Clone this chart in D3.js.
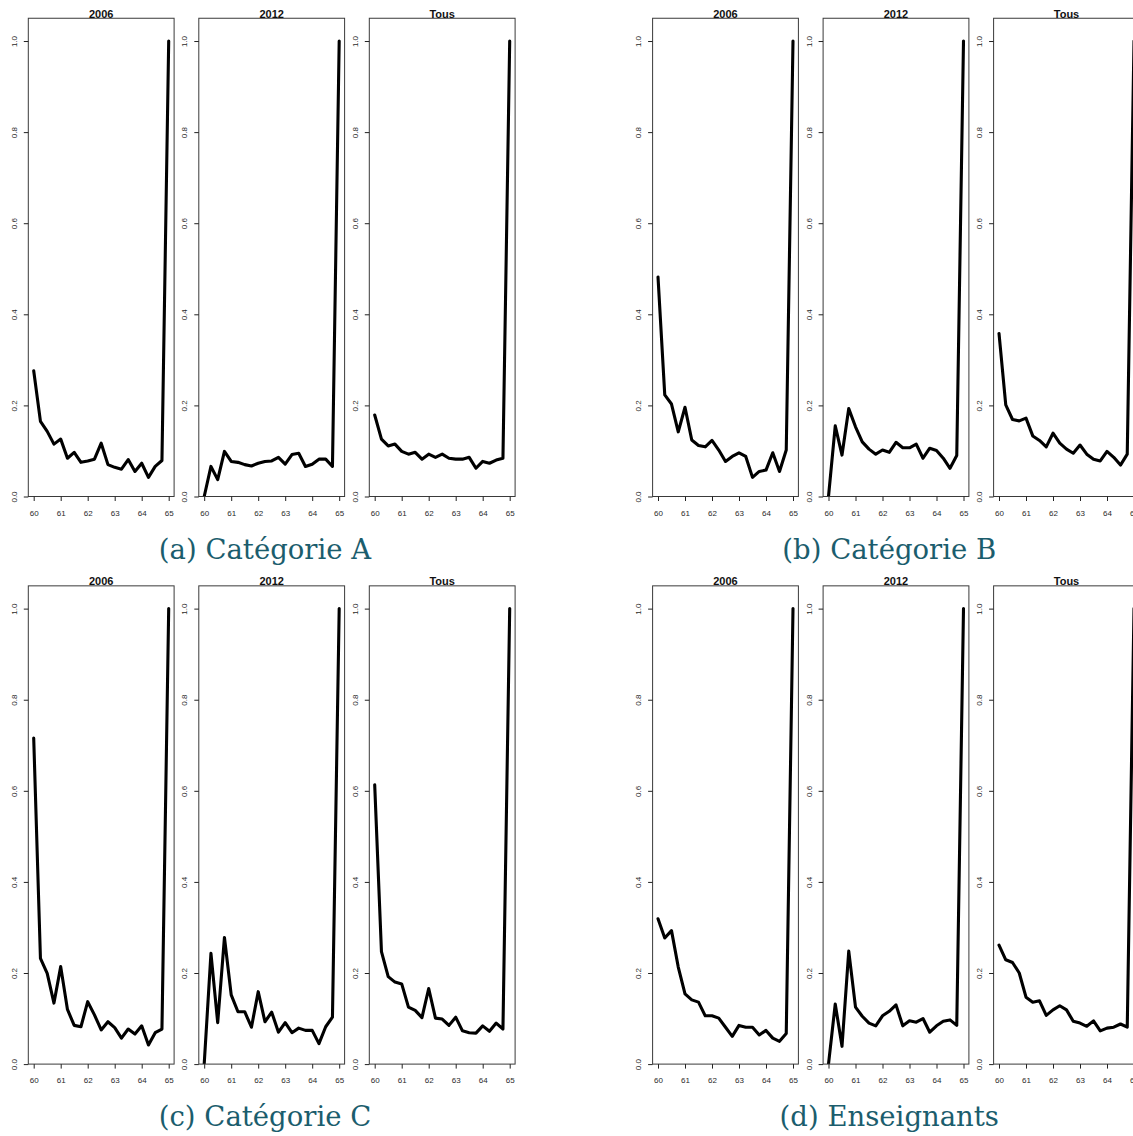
<!DOCTYPE html>
<html>
<head>
<meta charset="utf-8">
<script src="https://cdn.jsdelivr.net/npm/d3@7"></script>
<style>
html, body { margin: 0; padding: 0; background: #fff; }
svg { display: block; }
</style>
</head>
<body>
<svg id="chart" width="1133" height="1136"></svg>
<script>
// ---- data ----
const ages = [60, 60.25, 60.5, 60.75, 61, 61.25, 61.5, 61.75, 62, 62.25, 62.5, 62.75, 63, 63.25, 63.5, 63.75, 64, 64.25, 64.5, 64.75, 65];
const xTicks = [60, 61, 62, 63, 64, 65];
const yTicks = [0, 0.2, 0.4, 0.6, 0.8, 1.0];
const yTickLabels = ["0.0", "0.2", "0.4", "0.6", "0.8", "1.0"];
const panelTitles = ["2006", "2012", "Tous"];
const captions = ["(a) Catégorie A", "(b) Catégorie B", "(c) Catégorie C", "(d) Enseignants"];

const catA2006 = [0.276, 0.165, 0.143, 0.115, 0.126, 0.084, 0.097, 0.075, 0.078, 0.082, 0.117, 0.070, 0.064, 0.060, 0.081, 0.055, 0.073, 0.042, 0.066, 0.079, 1.0];
const catA2012 = [0.0, 0.066, 0.037, 0.099, 0.077, 0.075, 0.070, 0.067, 0.073, 0.077, 0.078, 0.086, 0.071, 0.092, 0.095, 0.066, 0.071, 0.082, 0.082, 0.066, 1.0];
const catATous = [0.179, 0.126, 0.111, 0.115, 0.099, 0.093, 0.097, 0.082, 0.093, 0.086, 0.093, 0.084, 0.082, 0.082, 0.086, 0.062, 0.077, 0.073, 0.080, 0.084, 1.0];

const catB2006 = [0.482, 0.223, 0.203, 0.142, 0.196, 0.124, 0.112, 0.109, 0.123, 0.102, 0.077, 0.088, 0.096, 0.088, 0.042, 0.055, 0.058, 0.096, 0.055, 0.102, 1.0];
const catB2012 = [0.0, 0.155, 0.091, 0.193, 0.153, 0.120, 0.104, 0.093, 0.102, 0.097, 0.119, 0.107, 0.107, 0.115, 0.084, 0.106, 0.101, 0.084, 0.062, 0.090, 1.0];
const catBTous = [0.358, 0.201, 0.169, 0.166, 0.172, 0.133, 0.123, 0.109, 0.139, 0.117, 0.104, 0.095, 0.113, 0.093, 0.082, 0.078, 0.099, 0.086, 0.069, 0.093, 1.0];

const catC2006 = [0.716, 0.232, 0.199, 0.134, 0.214, 0.120, 0.085, 0.082, 0.137, 0.108, 0.075, 0.093, 0.080, 0.057, 0.077, 0.066, 0.084, 0.042, 0.069, 0.077, 1.0];
const catC2012 = [0.0, 0.243, 0.091, 0.278, 0.152, 0.115, 0.115, 0.081, 0.159, 0.093, 0.114, 0.070, 0.091, 0.069, 0.079, 0.074, 0.074, 0.045, 0.082, 0.103, 1.0];
const catCTous = [0.613, 0.247, 0.192, 0.180, 0.176, 0.125, 0.118, 0.102, 0.166, 0.101, 0.099, 0.085, 0.103, 0.073, 0.069, 0.068, 0.084, 0.072, 0.090, 0.077, 1.0];

const ens2006 = [0.319, 0.277, 0.293, 0.213, 0.154, 0.141, 0.136, 0.106, 0.106, 0.101, 0.081, 0.061, 0.085, 0.081, 0.081, 0.064, 0.074, 0.057, 0.050, 0.067, 1.0];
const ens2012 = [0.0, 0.132, 0.039, 0.248, 0.125, 0.105, 0.090, 0.084, 0.106, 0.116, 0.130, 0.084, 0.095, 0.092, 0.100, 0.070, 0.084, 0.094, 0.097, 0.085, 1.0];
const ensTous = [0.261, 0.229, 0.223, 0.200, 0.147, 0.136, 0.139, 0.107, 0.119, 0.128, 0.119, 0.094, 0.090, 0.083, 0.095, 0.073, 0.079, 0.081, 0.088, 0.081, 1.0];

const groups = [
  { caption: captions[0], series: [catA2006, catA2012, catATous] },
  { caption: captions[1], series: [catB2006, catB2012, catBTous] },
  { caption: captions[2], series: [catC2006, catC2012, catCTous] },
  { caption: captions[3], series: [ens2006, ens2012, ensTous] }
];

// ---- layout ----
const svg = d3.select("#chart");
const groupDX = 624.3, groupDY = 567.6;
const boxLeft0 = 28.3, panelStep = 170.5, boxW = 145.8;
const boxTop0 = 18.25, boxBottom0 = 496.5;
const captionCX = 265, captionBaseline = 558.5;

groups.forEach((g, gi) => {
  const gx = (gi % 2) * groupDX;
  const gy = Math.floor(gi / 2) * groupDY;
  const G = svg.append("g").attr("transform", `translate(${gx},${gy})`);

  g.series.forEach((vals, pi) => {
    const left = boxLeft0 + pi * panelStep;
    const x = d3.scaleLinear().domain([59.8, 65.2]).range([left, left + boxW]);
    const y = d3.scaleLinear().domain([0, 1.05]).range([boxBottom0, boxTop0]);
    const P = G.append("g");

    const clipId = `clip-${gi}-${pi}`;
    P.append("clipPath").attr("id", clipId)
      .append("rect")
      .attr("x", left).attr("y", boxTop0)
      .attr("width", boxW).attr("height", boxBottom0 - boxTop0);

    // data line
    const line = d3.line().x((d, i) => x(ages[i])).y(d => y(d));
    P.append("path")
      .datum(vals)
      .attr("clip-path", `url(#${clipId})`)
      .attr("d", line)
      .attr("fill", "none")
      .attr("stroke", "#000")
      .attr("stroke-width", 3.1)
      .attr("stroke-linejoin", "round")
      .attr("stroke-linecap", "round");

    // box
    P.append("rect")
      .attr("x", left).attr("y", boxTop0)
      .attr("width", boxW).attr("height", boxBottom0 - boxTop0)
      .attr("fill", "none").attr("stroke", "#3a3a3a").attr("stroke-width", 1);

    // y axis
    const yAxis = d3.axisLeft(y).tickValues(yTicks)
      .tickFormat((d, i) => yTickLabels[i]).tickSize(4.5).tickPadding(5);
    const ya = P.append("g").attr("transform", `translate(${left},0)`).call(yAxis);
    ya.select(".domain").remove();
    ya.selectAll(".tick line").attr("stroke", "#222");
    ya.selectAll(".tick text")
      .attr("font-family", "Liberation Sans, Arial, sans-serif")
      .attr("font-size", 8)
      .attr("fill", "#2a2a2a")
      .attr("text-anchor", "middle")
      .attr("dy", null)
      .attr("x", null)
      .attr("transform", "translate(-14,0) rotate(-90)")
      .attr("dominant-baseline", "central");

    // x axis
    const xAxis = d3.axisBottom(x).tickValues(xTicks)
      .tickFormat(d3.format("d")).tickSize(4.5).tickPadding(6);
    const xa = P.append("g").attr("transform", `translate(0,${boxBottom0})`).call(xAxis);
    xa.select(".domain").remove();
    xa.selectAll(".tick line").attr("stroke", "#222");
    xa.selectAll(".tick text")
      .attr("font-family", "Liberation Sans, Arial, sans-serif")
      .attr("font-size", 8)
      .attr("fill", "#2a2a2a")
      .attr("y", 16.5)
      .attr("dy", null)
      .attr("dominant-baseline", "central");

    // title
    P.append("text")
      .attr("x", left + boxW / 2)
      .attr("y", boxTop0 - 0.5)
      .attr("text-anchor", "middle")
      .attr("font-family", "Liberation Sans, Arial, sans-serif")
      .attr("font-weight", "bold")
      .attr("font-size", 11)
      .attr("fill", "#111")
      .text(panelTitles[pi]);
  });

  G.append("text")
    .attr("x", captionCX)
    .attr("y", captionBaseline)
    .attr("text-anchor", "middle")
    .attr("font-family", "DejaVu Serif, serif")
    .attr("font-size", 27.5)
    .attr("fill", "#1b5d6d")
    .text(g.caption);
});
</script>
</body>
</html>
